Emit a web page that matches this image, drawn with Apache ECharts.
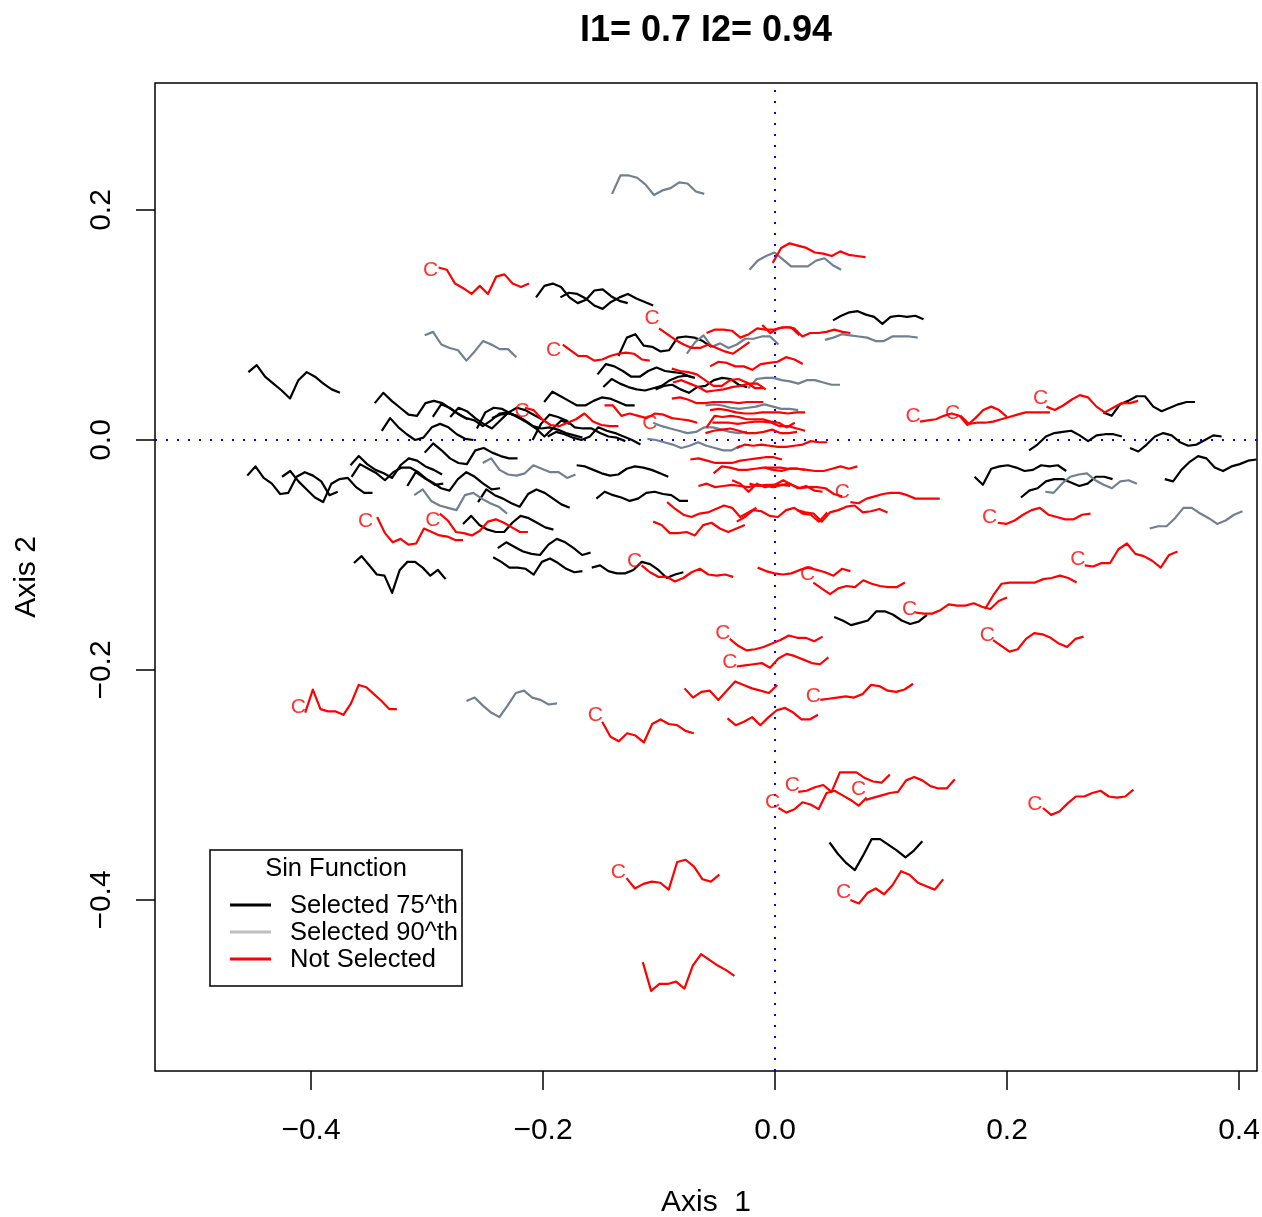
<!DOCTYPE html>
<html>
<head>
<meta charset="utf-8">
<title>Sin Function glyphs</title>
<script src="https://cdn.jsdelivr.net/npm/echarts@6/dist/echarts.min.js"></script>
<style>
html, body { margin: 0; padding: 0; background: #fff; }
#chart { width: 1262px; height: 1217px; }
</style>
</head>
<body>
<div id="chart"></div>
<script>
// axis ranges and ticks
var xRange = [-0.5345, 0.4155];
var yRange = [-0.5487, 0.3104];
var xTicks = [-0.4, -0.2, 0, 0.2, 0.4];
var yTicks = [-0.4, -0.2, 0, 0.2];

// every glyph: [x start, x end, y of first point, profile in 1/1000 units relative to first point]
var blackGlyphs = [
	[-0.454, -0.375, 0.059, [0, 6, -4, -10, -16, -23, -7, 0, -4, -10, -15, -18]],
	[-0.345, -0.265, 0.032, [0, 9, 2, -4, -10, -11, 0, 2, 0, -5, -10, -14]],
	[-0.339, -0.260, 0.008, [0, 11, 3, -3, -8, -6, 3, 6, 3, -3, -7, -8]],
	[-0.455, -0.377, -0.031, [0, 8, -2, -7, -16, -15, -1, 3, 0, -5, -17, -14]],
	[-0.425, -0.347, -0.032, [0, 5, -4, -11, -18, -22, -6, -2, -1, -9, -14, -14]],
	[-0.366, -0.287, -0.022, [0, 8, 1, -4, -7, -11, 0, 6, 4, -1, -4, -8]],
	[-0.365, -0.286, -0.032, [0, 11, 7, 3, -3, 4, 8, 8, 4, -2, -7, -6]],
	[-0.317, -0.237, -0.040, [0, 12, 7, 3, -2, -4, 6, 12, 8, 2, -3, -2]],
	[-0.363, -0.284, -0.107, [0, 6, -2, -10, -11, -26, -6, 1, 1, -4, -11, -6, -14]],
	[-0.302, -0.222, -0.011, [0, 8, 2, -5, -9, -10, 2, 4, 0, -3, -5, -5]],
	[-0.256, -0.177, -0.054, [0, 11, 6, 3, -1, -4, 7, 11, 8, 3, -2, -5]],
	[-0.269, -0.191, -0.073, [0, 7, -1, -5, -7, -7, 1, 7, 5, 1, -3, -5]],
	[-0.239, -0.159, -0.094, [0, 5, 1, -3, -5, -6, 3, 8, 5, 0, -6, -4]],
	[-0.243, -0.166, -0.102, [0, -4, -9, -9, -10, -15, -4, -1, -5, -10, -13, -12]],
	[-0.158, -0.079, -0.111, [0, 2, -3, -5, -5, -2, 5, 3, -2, -9, -6, -4]],
	[-0.171, -0.092, -0.022, [0, -1, -4, -7, -9, -8, -3, -1, -2, -4, -7, -10]],
	[-0.154, -0.075, -0.051, [0, 6, 3, 1, -2, 0, 5, 6, 4, 3, -2, -2]],
	[-0.199, -0.121, 0.033, [0, 9, 5, 1, -3, -3, 1, 4, 3, 0, -3, -3]],
	[-0.196, -0.116, 0.003, [0, 4, 2, -1, -3, 0, 8, 5, 3, 0, -3, -7]],
	[-0.153, -0.073, 0.057, [0, 9, 7, 3, -2, -2, 3, 6, 3, 2, 1, -2]],
	[-0.148, -0.069, 0.046, [0, 7, 3, 0, -2, -3, -1, 1, 6, 9, 10, 8]],
	[-0.103, -0.024, 0.044, [0, 3, 4, 0, -3, 2, 3, 8, 10, 9, 4, 2]],
	[0.283, 0.362, 0.024, [0, -3, 7, 10, 14, 14, 5, 1, 4, 7, 9, 9]],
	[0.219, 0.299, -0.009, [0, 5, 12, 15, 16, 17, 13, 8, 13, 14, 14, 12]],
	[0.306, 0.385, -0.007, [0, -3, 3, 10, 13, 11, 5, 2, 3, 7, 11, 10]],
	[0.172, 0.251, -0.032, [0, -7, 7, 9, 10, 8, 5, 6, 10, 9, 10, 5]],
	[0.212, 0.291, -0.050, [0, 6, 8, 14, 16, 16, 13, 10, 12, 18, 18, 16]],
	[0.336, 0.415, -0.034, [0, -2, 8, 15, 20, 18, 10, 7, 11, 13, 16, 17]],
	[0.051, 0.131, -0.154, [0, -3, -7, -5, -3, 5, 5, 2, -3, -6, -4, 2]],
	[0.047, 0.127, -0.350, [0, -10, -18, -24, -11, 3, 3, -2, -7, -13, -7, 1]],
	[-0.295, -0.216, 0.020, [0, 11, 8, 3, -1, -3, -8, -3, 3, 4, 1, -3]],
	[-0.280, -0.201, 0.020, [0, 8, 5, -1, -6, -10, -3, 4, 8, 6, 2, -2]],
	[-0.257, -0.177, 0.010, [0, 14, 18, 17, 13, 9, 5, 0, -7, 0, 7, 4]],
	[-0.244, -0.166, 0.019, [0, 3, 4, 2, -2, -7, -9, -8, -10, -13, -15, -17]],
	[-0.209, -0.129, 0.000, [0, 14, 22, 20, 17, 11, 10, 10, 6, 3, 2, -1]],
	[-0.206, -0.127, 0.124, [0, 10, 12, 9, 0, -5, -2, 6, 7, 1, -3, -5]],
	[-0.185, -0.105, 0.124, [0, 4, 3, -1, -7, -10, -4, 0, 3, -1, -4, -7]],
	[0.050, 0.128, 0.104, [0, 4, 7, 8, 5, 3, -3, 3, 4, 3, 4, 1]],
	[-0.135, -0.055, 0.073, [0, 16, 19, 9, 8, 4, 5, 16, 17, 16, 13, 8]]
];

var grayGlyphs = [
	[-0.1405, -0.061, 0.214, [0, 16, 16, 14, 8, -1, 3, 5, 10, 9, 2, 0]],
	[-0.022, 0.057, 0.148, [0, 8, 12, 15, 9, 3, 3, 3, 8, 10, 4, 0]],
	[0.043, 0.123, 0.087, [0, 2, 5, 4, 3, 2, -1, -1, 3, 3, 3, 2]],
	[-0.302, -0.223, 0.091, [0, 3, -8, -11, -13, -22, -14, -5, -8, -12, -12, -19]],
	[-0.311, -0.231, -0.048, [0, 5, -5, -9, -11, -13, 0, 2, -3, -7, -10, -16]],
	[-0.252, -0.172, -0.020, [0, 4, -6, -10, -11, -9, -2, -5, -8, -8, -13, -10]],
	[-0.060, 0.020, 0.030, [0, 1, 0, -2, -3, -2, -1, 1, -1, -3, -3, -4]],
	[-0.105, -0.024, 0.015, [0, -3, -5, -7, -9, -8, -4, -4, -6, -8, -9, -8]],
	[-0.110, -0.030, 0.001, [0, -1, -3, -5, -8, -6, -3, -6, -8, -10, -10, -6]],
	[0.233, 0.312, -0.045, [0, -1, 7, 13, 15, 16, 10, 6, 3, 9, 10, 7]],
	[0.323, 0.403, -0.077, [0, 2, 2, 9, 18, 18, 13, 9, 4, 7, 12, 15]],
	[-0.266, -0.188, -0.227, [0, 3, -4, -10, -14, -4, 7, 9, 3, 1, -3, -2]],
	[-0.076, 0.003, 0.075, [0, 10, 16, 6, 9, 5, 8, 13, 13, 15, 15, 8]],
	[-0.023, 0.056, 0.045, [0, 8, 9, 9, 7, 6, 4, 7, 7, 5, 3, 3]]
];

var redGlyphs = [
	[-0.290, -0.212, 0.150, [0, -2, -14, -18, -23, -16, -23, -8, -6, -14, -17, -14]],
	[-0.002, 0.078, 0.154, [0, 13, 17, 15, 13, 9, 8, 6, 10, 7, 6, 5]],
	[-0.183, -0.108, 0.083, [0, -5, -10, -10, -14, -13, -10, -8, -7, -8, -13, -14]],
	[-0.100, -0.022, 0.097, [0, -5, -10, -14, -17, -17, -14, -17, -20, -22, -17, -12]],
	[-0.059, 0.021, 0.093, [0, 3, 3, 2, -4, -1, 4, 3, 3, 5, 5, -2]],
	[-0.011, 0.065, 0.100, [0, -7, -3, -2, -3, -10, -7, -7, -6, -4, -6, -7]],
	[-0.2155, -0.135, 0.028, [0, -2, -10, -15, -16, -13, -10, -5, -12, -15, -16, -16]],
	[-0.147, -0.067, 0.030, [0, 0, -9, -7, -9, -11, -7, -8, -11, -12, -13, -15]],
	[-0.056, 0.024, 0.064, [0, 4, 3, 0, 0, -3, 2, 3, 4, 8, 6, 2]],
	[-0.088, -0.008, 0.050, [0, 2, -1, -4, -8, -7, -6, -4, -3, -1, -1, -6]],
	[-0.089, -0.010, 0.062, [0, -2, -3, -5, -10, -15, -15, -10, -9, -12, -17, -17]],
	[-0.089, -0.010, 0.036, [0, 1, -1, -4, -4, -3, -3, -3, -4, -3, -3, -3]],
	[-0.056, 0.026, 0.026, [0, 1, 0, -2, -3, -3, -2, -2, -2, -3, -2, -2]],
	[-0.059, 0.017, 0.011, [0, 10, 9, 10, 9, 7, 7, 7, 5, 4, 0, 4]],
	[-0.054, 0.026, 0.015, [0, 0, 0, -1, 0, 1, 1, 0, -3, -3, -5, -7]],
	[-0.060, 0.019, 0.006, [0, 2, 3, 4, 2, 0, 0, 1, 3, 0, 0, 1]],
	[-0.033, 0.045, -0.007, [0, 3, 2, 3, 2, 1, 1, 2, 3, 6, 5, 5]],
	[-0.073, 0.006, -0.017, [0, 1, -1, -3, -3, -3, -1, 0, 1, 2, 2, 0]],
	[-0.053, 0.026, -0.029, [0, 6, 5, 3, 3, 4, 5, 5, 5, 4, 4, 3]],
	[-0.009, 0.071, -0.024, [0, -2, -3, -1, -1, -2, -3, -3, -1, 1, -1, 1]],
	[-0.066, 0.013, -0.040, [0, 2, -1, 0, 1, 0, -1, 1, 0, -1, 1, 0]],
	[-0.037, 0.041, -0.035, [0, -3, -10, -3, -6, -4, -4, -3, -7, -5, -9, -10]],
	[-0.022, 0.058, -0.038, [0, -2, -1, -1, 3, -1, -4, -3, -3, -4, -9, -11]],
	[0.065, 0.142, -0.054, [0, -1, 3, 5, 7, 8, 8, 6, 3, 3, 3, 3]],
	[-0.093, -0.016, -0.054, [0, -6, -11, -13, -10, -9, -6, -3, -5, -13, -9, -5]],
	[-0.033, 0.045, -0.071, [0, 4, 10, 9, 5, 4, 10, 12, 7, 6, 0, 8]],
	[0.019, 0.097, -0.061, [0, -2, -3, -10, -2, 0, 3, 4, -2, -1, 1, -2]],
	[-0.105, -0.026, -0.071, [0, -3, -10, -10, -9, -12, -3, -1, -6, -9, -6, -3]],
	[-0.015, 0.065, -0.111, [0, -3, -5, -6, -5, -2, 0, -2, -4, -7, -1, -3]],
	[0.033, 0.112, -0.124, [0, -5, -10, -5, -3, -4, 2, -1, -3, -4, -4, 0]],
	[0.125, 0.200, 0.016, [0, 1, 2, 5, 7, 5, -3, 3, 10, 13, 10, 4]],
	[0.160, 0.237, 0.021, [0, -7, -6, -6, -5, -3, -1, 1, 3, 3, 3, 3]],
	[0.234, 0.313, 0.029, [0, -3, 1, 6, 10, 8, 0, -5, -1, 3, 3, 5]],
	[0.192, 0.272, -0.072, [0, -1, 2, 7, 11, 13, 7, 5, 3, 3, 7, 8]],
	[0.267, 0.347, -0.109, [0, -1, 2, 2, 14, 19, 10, 8, 4, -2, 9, 12]],
	[0.121, 0.200, -0.150, [0, -1, -1, 2, 7, 6, 6, 8, 5, 3, 10, 13]],
	[0.181, 0.260, -0.147, [0, 12, 22, 23, 23, 23, 23, 26, 27, 29, 27, 23]],
	[0.188, 0.266, -0.174, [0, -5, -10, -8, 1, 6, 5, 2, -3, -6, 1, 3]],
	[-0.039, 0.041, -0.173, [0, -6, -10, -9, -7, -4, -1, 3, 1, 1, -2, 2]],
	[-0.033, 0.046, -0.197, [0, 1, 2, 3, -1, 7, 11, 9, 6, 3, 2, 8]],
	[-0.078, 0.002, -0.216, [0, -8, -3, -2, -10, -2, 6, 3, 0, -2, -4, 3]],
	[0.039, 0.119, -0.226, [0, 1, 2, 3, 2, 5, 13, 12, 8, 7, 9, 14]],
	[-0.149, -0.070, -0.245, [0, -13, -17, -10, -12, -18, -2, 2, -2, -3, -8, -10]],
	[-0.041, 0.037, -0.242, [0, -6, -3, 1, -6, 1, 7, 9, 5, -1, -1, 3]],
	[0.020, 0.099, -0.306, [0, 1, 4, 6, 0, 17, 17, 17, 12, 9, 8, 15]],
	[0.003, 0.079, -0.320, [0, -4, -1, 5, 3, -1, 13, 15, 11, 7, 2, 9]],
	[0.078, 0.155, -0.313, [0, 2, 4, 6, 7, 17, 20, 17, 12, 10, 10, 18]],
	[-0.128, -0.048, -0.381, [0, -9, -5, -3, -4, -10, 14, 16, 10, -1, -3, 3]],
	[-0.114, -0.035, -0.454, [0, -25, -19, -19, -17, -23, -3, 7, 2, -3, -7, -12]],
	[0.065, 0.145, -0.400, [0, -3, 6, 10, 5, 13, 25, 22, 15, 12, 9, 18]],
	[-0.405, -0.326, -0.237, [0, 20, 3, 1, 1, -2, 8, 24, 22, 16, 10, 3, 3]],
	[0.231, 0.309, -0.320, [0, -6, -3, 4, 10, 10, 13, 15, 10, 9, 10, 16]],
	[-0.343, -0.269, -0.067, [0, -14, -22, -19, -24, -23, -10, -13, -16, -17, -20, -20]],
	[-0.289, -0.213, -0.064, [0, -6, -16, -17, -19, -15, -7, -5, -8, -12, -16, -16]],
	[-0.115, -0.036, -0.109, [0, -6, -10, -10, -14, -11, -6, -3, -8, -9, -8, -10]]
];

// "C" marks next to some of the not selected glyphs
var cLabels = [
	[-0.297, 0.148], [-0.191, 0.078], [-0.106, 0.106], [-0.218, 0.025], [-0.108, 0.015],
	[-0.353, -0.071], [-0.295, -0.070], [-0.121, -0.105], [0.119, 0.021], [0.153, 0.023],
	[0.229, 0.036], [0.058, -0.045], [0.185, -0.067], [0.261, -0.104], [0.028, -0.117],
	[0.116, -0.147], [0.183, -0.170], [-0.045, -0.168], [-0.039, -0.193], [0.033, -0.223],
	[-0.155, -0.239], [-0.411, -0.232], [0.015, -0.300], [-0.002, -0.315], [0.072, -0.304],
	[0.224, -0.317], [-0.135, -0.376], [0.059, -0.393]
];

var legendNames = ["Selected 75^th", "Selected 90^th", "Not Selected"];
var legendColors = ["#000000", "#bebebe", "#ff0000"];

var FONT = "Liberation Sans, Arial, Helvetica, sans-serif";

function fmt(v) {
	return v.toFixed(1).replace("-", "\u2212");
}

//每个小图形变成一条折线
function glyphSeries(list, color) {
	return list.map(function(g) {
		var n = g[3].length;
		var pts = g[3].map(function(d, i) {
			return [g[0] + (g[1] - g[0]) * i / (n - 1), g[2] + d / 1000];
		});
		return {
			type: "line",
			data: pts,
			symbol: "none",
			silent: true,
			lineStyle: { color: color, width: 2.2, join: "round" },
			z: 3
		};
	});
}

var series = [
	{
		type: "line",
		data: [[0, yRange[0]], [0, yRange[1]]],
		symbol: "none",
		silent: true,
		lineStyle: { color: "#0000ff", width: 2, type: [2, 9] },
		z: 2
	},
	{
		type: "line",
		data: [[xRange[0], 0], [xRange[1], 0]],
		symbol: "none",
		silent: true,
		lineStyle: { color: "#0000ff", width: 2, type: [2, 9] },
		z: 2
	}
];
series = series.concat(glyphSeries(blackGlyphs, "#000000"));
series = series.concat(glyphSeries(grayGlyphs, "#708090"));
series = series.concat(glyphSeries(redGlyphs, "#ff0000"));
series.push({
	type: "scatter",
	data: cLabels,
	symbolSize: 1,
	silent: true,
	itemStyle: { color: "rgba(0,0,0,0)" },
	label: {
		show: true,
		position: "inside",
		formatter: "C",
		color: "#ff0000",
		fontSize: 21,
		fontFamily: FONT
	},
	z: 4
});

// legend box drawn like the R legend
var legendGraphics = [
	{
		type: "rect",
		shape: { x: 210, y: 850, width: 252, height: 136 },
		style: { fill: "#fff", stroke: "#000", lineWidth: 1.5 },
		z: 10
	},
	{
		type: "text",
		x: 336, y: 869,
		style: { text: "Sin Function", font: "25.5px " + FONT, fill: "#000", textAlign: "center", textVerticalAlign: "middle" },
		z: 11
	}
];
legendNames.forEach(function(name, i) {
	var y = 905 + i * 27;
	legendGraphics.push({
		type: "line",
		shape: { x1: 230, y1: y, x2: 271, y2: y },
		style: { stroke: legendColors[i], lineWidth: 3 },
		z: 11
	});
	legendGraphics.push({
		type: "text",
		x: 290, y: y + 1,
		style: { text: name, font: "25.5px " + FONT, fill: "#000", textAlign: "left", textVerticalAlign: "middle" },
		z: 11
	});
});
legendGraphics.push({
	type: "text",
	x: 706, y: 31,
	style: { text: "I1= 0.7 I2= 0.94", font: "bold 36px " + FONT, fill: "#000", textAlign: "center", textVerticalAlign: "middle" },
	z: 11
});

var myChart = echarts.init(document.getElementById("chart"));
var option = {
	animation: false,
	backgroundColor: "#ffffff",
	grid: {
		left: 155, top: 83, width: 1102, height: 988,
		outerBoundsMode: "none",
		show: true, borderColor: "#000", borderWidth: 1.5, backgroundColor: "transparent"
	},
	xAxis: {
		type: "value",
		min: xRange[0],
		max: xRange[1],
		name: "Axis  1",
		nameLocation: "middle",
		nameGap: 117,
		nameTextStyle: { fontSize: 30, color: "#000", fontFamily: FONT },
		axisLine: { show: false, onZero: false },
		splitLine: { show: false },
		axisTick: { show: true, inside: false, length: 19, customValues: xTicks, lineStyle: { color: "#000", width: 1.5 } },
		axisLabel: { customValues: xTicks, margin: 45, fontSize: 30, color: "#000", fontFamily: FONT, formatter: fmt }
	},
	yAxis: {
		type: "value",
		min: yRange[0],
		max: yRange[1],
		name: "Axis 2",
		nameLocation: "middle",
		nameGap: 113,
		nameRotate: 90,
		nameTextStyle: { fontSize: 30, color: "#000", fontFamily: FONT },
		axisLine: { show: false, onZero: false },
		splitLine: { show: false },
		axisTick: { show: true, inside: false, length: 19, customValues: yTicks, lineStyle: { color: "#000", width: 1.5 } },
		axisLabel: { customValues: yTicks, rotate: 90, margin: 38, fontSize: 30, color: "#000", fontFamily: FONT, formatter: fmt }
	},
	graphic: legendGraphics,
	series: series
};
myChart.setOption(option);
</script>
</body>
</html>
